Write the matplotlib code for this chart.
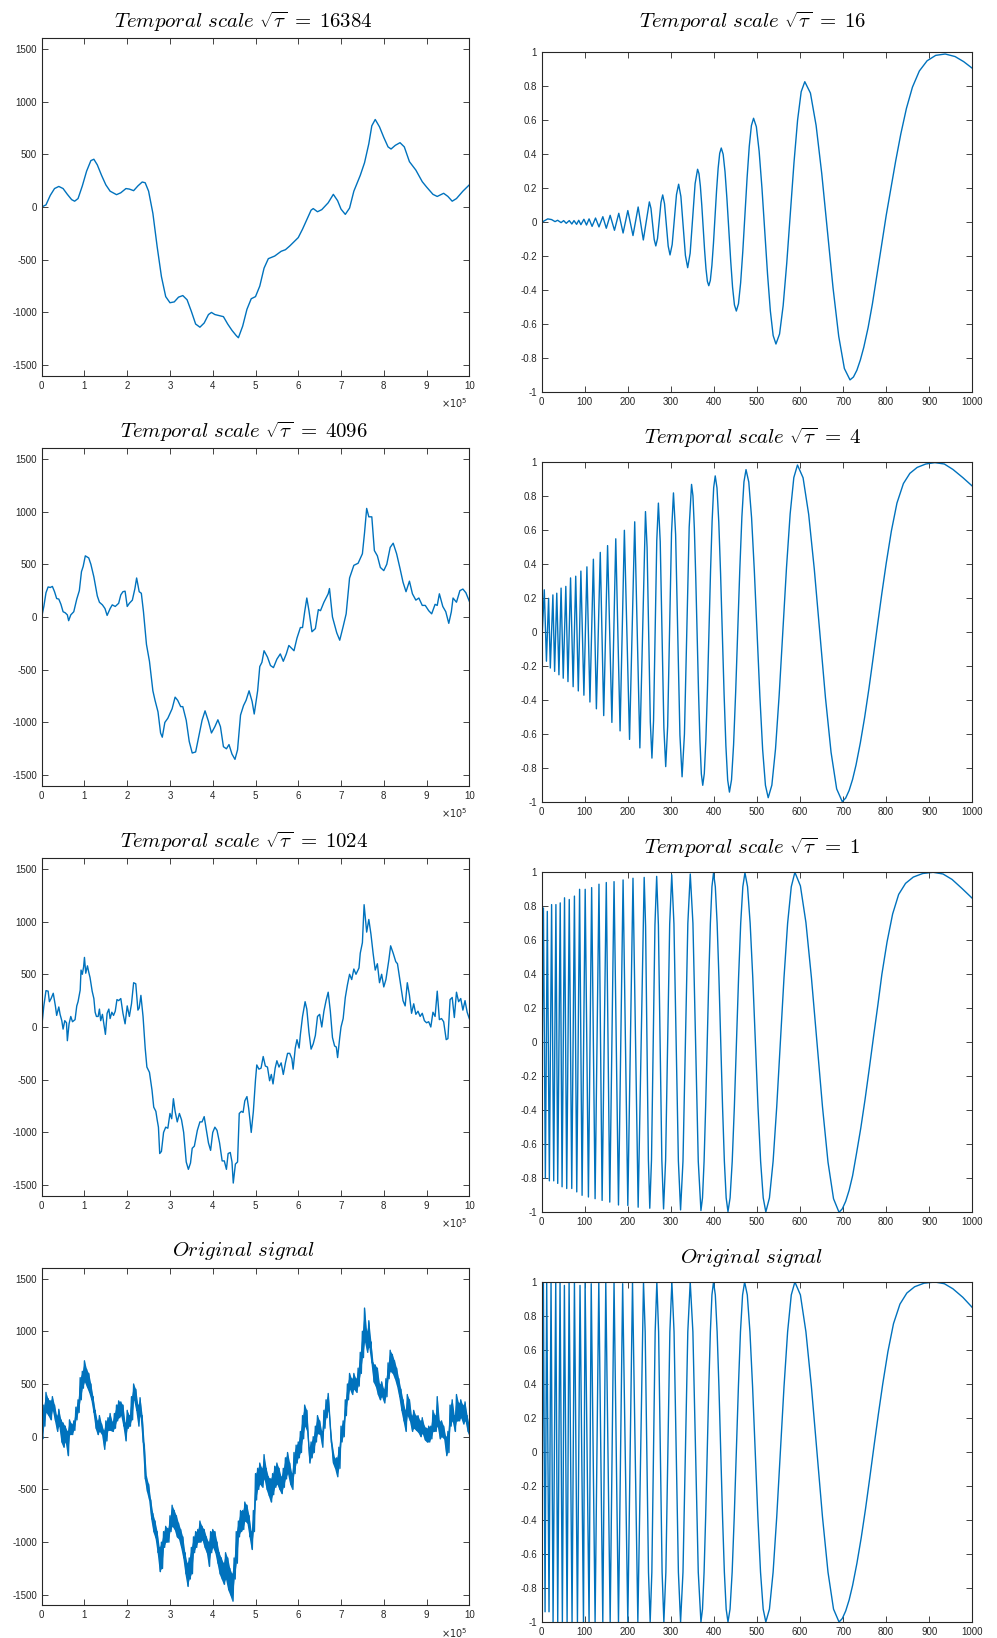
import matplotlib
matplotlib.use("Agg")
import matplotlib.pyplot as plt
import numpy as np

plt.rcParams['font.family'] = ['Liberation Sans', 'DejaVu Sans']
plt.rcParams['mathtext.fontset'] = 'cm'
plt.rcParams['axes.unicode_minus'] = False

BLUE = '#0072BD'
DARK = '#262626'

# ---- left column: smoothed random walk, x in units of 1e5 ----
smooth_16384 = [
    (0, 0), (0.1, 20), (0.2, 110), (0.3, 175), (0.4, 195), (0.5, 175), (0.6, 120), (0.7, 70),
    (0.77, 55), (0.85, 80), (0.95, 200), (1.05, 340), (1.15, 440), (1.22, 453), (1.3, 400),
    (1.4, 300), (1.5, 210), (1.6, 150), (1.75, 117), (1.85, 135), (1.97, 175), (2.05, 170),
    (2.15, 155), (2.25, 200), (2.35, 237), (2.42, 230), (2.5, 150), (2.6, -60), (2.7, -376),
    (2.8, -660), (2.9, -850), (3.0, -908), (3.1, -900), (3.2, -855), (3.3, -840), (3.4, -880),
    (3.5, -990), (3.6, -1110), (3.7, -1140), (3.8, -1100), (3.9, -1020), (3.97, -1000),
    (4.05, -1020), (4.15, -1030), (4.25, -1040), (4.35, -1110), (4.45, -1170), (4.55, -1220),
    (4.6, -1240), (4.7, -1130), (4.8, -970), (4.9, -870), (5.0, -850), (5.1, -750), (5.2, -580),
    (5.3, -490), (5.45, -465), (5.6, -420), (5.7, -405), (5.8, -370), (5.9, -330), (6.0, -290),
    (6.1, -210), (6.2, -120), (6.3, -30), (6.35, -15), (6.45, -45), (6.55, -25), (6.7, 40),
    (6.82, 120), (6.92, 60), (7.0, -20), (7.1, -70), (7.2, -10), (7.3, 150), (7.45, 300),
    (7.55, 420), (7.65, 600), (7.72, 770), (7.8, 830), (7.9, 760), (8.0, 660), (8.1, 570),
    (8.17, 550), (8.27, 585), (8.38, 610), (8.48, 570), (8.6, 430), (8.75, 350), (8.9, 240),
    (9.0, 190), (9.15, 120), (9.25, 100), (9.4, 130), (9.5, 100), (9.6, 55), (9.7, 80),
    (9.85, 150), (10.0, 210),
]

smooth_4096 = [
    (0, 0), (0.05, 100), (0.1, 230), (0.15, 285), (0.2, 280), (0.25, 290), (0.3, 240), (0.35, 175),
    (0.4, 170), (0.45, 120), (0.5, 50), (0.55, 40), (0.6, 20), (0.63, -35), (0.68, 20), (0.75, 50),
    (0.82, 170), (0.88, 250), (0.93, 430), (0.97, 480), (1.02, 580), (1.1, 560), (1.15, 500),
    (1.22, 380), (1.3, 200), (1.35, 140), (1.42, 115), (1.48, 80), (1.53, 15), (1.6, 80),
    (1.65, 115), (1.72, 100), (1.8, 130), (1.85, 210), (1.9, 240), (1.95, 245), (2.0, 100),
    (2.05, 130), (2.12, 160), (2.18, 270), (2.22, 370), (2.28, 240), (2.33, 225), (2.38, 50),
    (2.45, -260), (2.52, -420), (2.6, -700), (2.65, -790), (2.72, -900), (2.78, -1100),
    (2.82, -1140), (2.88, -1000), (2.95, -960), (3.05, -870), (3.12, -760), (3.18, -790),
    (3.25, -850), (3.3, -850), (3.38, -980), (3.45, -1180), (3.52, -1290), (3.6, -1280),
    (3.68, -1120), (3.75, -980), (3.82, -890), (3.9, -990), (3.97, -1100), (4.05, -1040),
    (4.12, -975), (4.18, -1040), (4.25, -1230), (4.32, -1250), (4.38, -1210), (4.45, -1300),
    (4.52, -1350), (4.58, -1260), (4.65, -930), (4.72, -840), (4.78, -790), (4.85, -700),
    (4.92, -800), (4.97, -920), (5.05, -700), (5.1, -470), (5.15, -430), (5.2, -320), (5.28, -380),
    (5.35, -460), (5.42, -480), (5.5, -400), (5.58, -350), (5.65, -420), (5.72, -350), (5.78, -270),
    (5.85, -300), (5.9, -320), (5.97, -200), (6.05, -100), (6.1, -100), (6.15, 50), (6.2, 180),
    (6.25, 60), (6.32, -140), (6.4, -110), (6.47, 70), (6.52, 60), (6.6, 140), (6.7, 220),
    (6.73, 270), (6.8, 0), (6.9, -150), (6.97, -220), (7.05, -90), (7.12, 30), (7.2, 370),
    (7.3, 490), (7.4, 510), (7.5, 600), (7.55, 800), (7.6, 1030), (7.65, 950), (7.72, 950),
    (7.78, 630), (7.85, 580), (7.92, 470), (8.0, 440), (8.07, 500), (8.15, 660), (8.22, 700),
    (8.3, 600), (8.38, 460), (8.45, 330), (8.52, 240), (8.6, 340), (8.67, 220), (8.75, 160),
    (8.82, 180), (8.9, 110), (8.97, 110), (9.05, 60), (9.12, 30), (9.2, 120), (9.25, 110),
    (9.3, 220), (9.38, 100), (9.45, 50), (9.52, -60), (9.58, 50), (9.62, 180), (9.7, 140),
    (9.78, 250), (9.85, 265), (9.92, 230), (10.0, 150),
]

smooth_1024 = [
    (0, 0), (0.05, 200), (0.1, 345), (0.15, 340), (0.18, 240), (0.22, 270), (0.27, 320), (0.32, 200),
    (0.35, 110), (0.4, 190), (0.43, 120), (0.47, 60), (0.5, -20), (0.54, 60), (0.58, 40), (0.6, -130),
    (0.64, 30), (0.68, 100), (0.72, 50), (0.78, 70), (0.82, 200), (0.85, 240), (0.9, 350), (0.92, 540),
    (0.95, 500), (0.98, 570), (1.0, 660), (1.03, 510), (1.07, 580), (1.1, 520), (1.13, 470),
    (1.18, 340), (1.22, 270), (1.25, 140), (1.28, 100), (1.32, 100), (1.35, 170), (1.38, 60),
    (1.42, 120), (1.49, -70), (1.53, 130), (1.57, 170), (1.6, 80), (1.64, 140), (1.68, 110),
    (1.72, 150), (1.76, 260), (1.8, 250), (1.85, 270), (1.9, 130), (1.95, 30), (2.0, 200),
    (2.05, 100), (2.1, 220), (2.15, 420), (2.2, 410), (2.25, 160), (2.28, 180), (2.32, 300),
    (2.37, 100), (2.42, -200), (2.46, -380), (2.52, -430), (2.58, -600), (2.62, -760), (2.67, -800),
    (2.7, -880), (2.73, -950), (2.76, -1200), (2.8, -1180), (2.85, -1000), (2.9, -950), (2.95, -960),
    (3.0, -820), (3.04, -870), (3.08, -680), (3.12, -800), (3.17, -900), (3.22, -820), (3.27, -880),
    (3.32, -1000), (3.38, -1280), (3.43, -1350), (3.48, -1290), (3.52, -1150), (3.57, -1130),
    (3.64, -980), (3.7, -900), (3.75, -900), (3.8, -850), (3.86, -1000), (3.9, -1100), (3.95, -1170),
    (4.0, -1000), (4.05, -950), (4.1, -980), (4.16, -1100), (4.22, -1270), (4.27, -1270),
    (4.32, -1350), (4.36, -1200), (4.41, -1190), (4.45, -1280), (4.48, -1480), (4.53, -1300),
    (4.58, -1280), (4.62, -820), (4.67, -800), (4.71, -810), (4.75, -700), (4.8, -660), (4.84, -770),
    (4.87, -880), (4.9, -1000), (4.95, -800), (5.0, -500), (5.03, -360), (5.08, -400), (5.13, -390),
    (5.18, -280), (5.23, -370), (5.28, -380), (5.33, -510), (5.37, -450), (5.41, -540), (5.46, -390),
    (5.5, -320), (5.55, -380), (5.6, -340), (5.65, -450), (5.7, -340), (5.75, -250), (5.8, -250),
    (5.85, -300), (5.88, -400), (5.93, -200), (5.97, -120), (6.02, -200), (6.05, -70), (6.1, 100),
    (6.16, 240), (6.2, 170), (6.25, -50), (6.3, -210), (6.35, -160), (6.4, -80), (6.45, 100),
    (6.5, 120), (6.55, 0), (6.6, 150), (6.65, 250), (6.7, 330), (6.75, 150), (6.8, -100),
    (6.85, -180), (6.89, -190), (6.92, -290), (6.97, -100), (7.0, 0), (7.05, 80), (7.1, 280),
    (7.15, 400), (7.2, 500), (7.25, 450), (7.3, 550), (7.35, 500), (7.42, 560), (7.45, 700),
    (7.5, 800), (7.54, 1160), (7.6, 900), (7.65, 1020), (7.7, 880), (7.75, 700), (7.8, 540),
    (7.85, 600), (7.9, 420), (7.95, 500), (8.0, 380), (8.05, 450), (8.12, 640), (8.16, 770),
    (8.22, 700), (8.28, 620), (8.32, 600), (8.38, 440), (8.42, 340), (8.45, 250), (8.5, 200),
    (8.55, 420), (8.6, 300), (8.65, 130), (8.7, 220), (8.75, 120), (8.8, 150), (8.85, 100),
    (8.9, 130), (8.95, 60), (9.0, 40), (9.05, 50), (9.1, 0), (9.15, 140), (9.2, 100), (9.25, 340),
    (9.3, 70), (9.35, 80), (9.4, 50), (9.46, -120), (9.5, -110), (9.55, 260), (9.6, 280), (9.65, 90),
    (9.7, 330), (9.75, 240), (9.8, 270), (9.85, 160), (9.9, 250), (9.95, 140), (10.0, 80),
]

# original random walk: upper / lower envelope read every 0.05e5
orig_step = 0.05
orig_hi = [
    50, 300, 420, 360, 340, 380, 300, 200, 260, 160, 130, 100, 50, 160, 120, 150, 280, 350, 560, 620,
    720, 640, 600, 500, 380, 250, 150, 200, 120, 60, 150, 180, 220, 140, 220, 300, 340, 330, 300, 130,
    250, 200, 380, 500, 450, 300, 370, 200, -80, -380, -450, -600, -730, -800, -900, -1050, -1000, -900, -850, -870,
    -750, -650, -700, -750, -820, -880, -950, -1100, -1200, -1150, -1050, -950, -900, -880, -800, -850, -880, -950, -1000, -900,
    -880, -900, -1000, -1100, -1150, -1200, -1100, -1150, -1250, -1300, -1150, -900, -800, -700, -700, -620, -650, -750, -900, -700,
    -350, -300, -250, -300, -170, -300, -380, -400, -350, -280, -250, -300, -380, -300, -200, -150, -250, -350, -150, -80,
    -50, 50, 200, 300, 250, -100, -50, 0, 100, 200, 150, 50, 250, 350, 410, 100, -100, -200, -200, -100,
    100, 150, 350, 500, 600, 550, 600, 550, 650, 800, 1000, 1220, 1000, 1100, 900, 700, 680, 650, 500, 520,
    450, 550, 700, 820, 780, 720, 650, 550, 450, 350, 250, 400, 350, 200, 250, 200, 200, 150, 180, 100,
    80, 100, 100, 250, 200, 380, 150, 150, 100, 0, 50, 300, 350, 200, 400, 320, 350, 300, 330, 200,
    100,
]
orig_lo = [
    -20, 100, 230, 200, 160, 250, 150, 50, 100, -50, -100, -50, -180, 20, 20, 60, 160, 230, 350, 460,
    520, 470, 420, 350, 230, 80, 20, 50, 20, -120, -40, 60, 60, 50, 80, 150, 180, 200, 100, -40,
    80, 100, 160, 350, 250, 100, 200, -50, -400, -520, -600, -780, -900, -960, -1100, -1280, -1250, -1050, -1000, -1000,
    -900, -850, -880, -950, -970, -1050, -1150, -1300, -1420, -1350, -1300, -1100, -1050, -1000, -1000, -980, -1050, -1100, -1230, -1100,
    -1050, -1100, -1200, -1300, -1350, -1400, -1350, -1450, -1500, -1560, -1350, -1200, -950, -900, -880, -800, -820, -950, -1070, -900,
    -600, -500, -450, -480, -400, -500, -560, -620, -550, -480, -450, -500, -540, -480, -400, -350, -450, -500, -350, -250,
    -200, -150, -20, 100, 50, -250, -200, -150, -50, 30, 20, -100, 80, 180, 250, -50, -250, -300, -380, -300,
    -50, 0, 200, 350, 450, 400, 450, 420, 480, 600, 750, 900, 800, 850, 700, 520, 480, 400, 350, 380,
    320, 380, 550, 620, 600, 550, 480, 380, 250, 150, 50, 200, 150, 50, 80, 60, 40, 0, 30, -30,
    -50, -50, -20, 50, 50, 100, -20, 0, -20, -180, -150, 100, 150, 50, 150, 150, 180, 120, 150, 50,
    0,
]

# ---- right column: smoothed chirp, (x, value) read at extrema and along the lobes ----
chirp_16 = [
    (0, 0.0), (14, 0.02), (23, 0.016), (31, 0.004), (37, 0.012), (45, -0.002), (51, 0.01), (57, -0.006),
    (64, 0.01), (70, -0.01), (75, 0.01), (81, -0.012), (86, 0.012), (91, -0.014), (98, 0.018),
    (104, -0.016), (110, 0.02), (117, -0.024), (125, 0.025), (133, -0.027), (142, 0.033), (150, -0.035),
    (159, 0.041), (169, -0.047), (179, 0.053), (189, -0.063), (200, 0.069), (212, -0.078), (224, 0.09),
    (236, -0.104), (250, 0.12),
    (253.75, 0.082), (257.5, -0.01), (261.25, -0.101), (265, -0.139),
    (269, -0.095), (273, 0.011), (277, 0.117), (281, 0.161),
    (285.25, 0.109), (289.5, -0.016), (293.75, -0.140), (298, -0.192),
    (303, -0.131), (308, 0.016), (313, 0.163), (318, 0.224),
    (323.25, 0.152), (328.5, -0.022), (333.75, -0.195), (339, -0.267),
    (344.75, -0.182), (350.5, 0.023), (356.25, 0.227), (362, 0.312),
    (365.25, 0.286), (368.5, 0.212), (371.75, 0.101), (375, -0.031), (378.25, -0.162), (381.5, -0.273),
    (384.75, -0.347), (388, -0.373),
    (391.6, -0.342), (395.25, -0.254), (398.9, -0.123), (402.5, 0.032), (406.1, 0.187), (409.75, 0.318),
    (413.4, 0.406), (417, 0.437),
    (421.4, 0.400), (425.75, 0.297), (430.1, 0.141), (434.5, -0.043), (438.9, -0.226), (443.25, -0.382),
    (447.6, -0.486), (452, -0.522),
    (457, -0.479), (462, -0.356), (467, -0.172), (472, 0.045), (477, 0.262), (482, 0.446), (487, 0.569),
    (492, 0.612),
    (498.5, 0.562), (505, 0.417), (511.5, 0.202), (518, -0.052), (524.5, -0.306), (531, -0.521),
    (537.5, -0.666), (544, -0.716),
    (552.4, -0.657), (560.75, -0.490), (569.1, -0.240), (577.5, 0.056), (585.9, 0.351), (594.25, 0.601),
    (602.6, 0.768), (611, 0.827),
    (624.1, 0.760), (637.25, 0.570), (650.4, 0.286), (663.5, -0.05), (676.6, -0.386), (689.75, -0.670),
    (702.9, -0.860), (716, -0.927),
    (724, -0.91), (732, -0.87), (740, -0.81), (748, -0.735), (758, -0.62), (768, -0.48), (778, -0.32),
    (789, -0.14), (800, 0.04), (811, 0.2), (822, 0.36), (834, 0.52), (847, 0.67), (861, 0.795),
    (877, 0.89), (895, 0.95), (915, 0.982), (937, 0.99), (960, 0.975), (980, 0.945), (1000, 0.906),
]

chirp_4 = [
    (0, -0.075), (6, 0.25), (11, -0.17), (16, 0.2), (20, -0.21), (26, 0.22), (30, -0.23), (35, 0.23),
    (40, -0.25), (45, 0.26), (50, -0.27), (56, 0.27), (61, -0.29), (67, 0.32), (73, -0.32), (79, 0.33),
    (85, -0.345), (91, 0.36), (98, -0.37), (105, 0.385), (112, -0.41), (120, 0.43), (127, -0.45),
    (136, 0.47), (144, -0.49), (153, 0.51), (163, -0.53), (172, 0.55), (182, -0.58), (192, 0.60),
    (204, -0.63), (216, 0.65), (228, -0.68), (241, 0.71),
    (244.75, 0.498), (248.5, -0.015), (252.25, -0.528), (256, -0.74),
    (259.75, -0.520), (263.5, 0.01), (267.25, 0.540), (271, 0.76),
    (275.25, 0.533), (279.5, -0.015), (283.75, -0.563), (288, -0.79),
    (292.5, -0.554), (297, 0.015), (301.5, 0.584), (306, 0.82),
    (311, 0.575), (316, -0.015), (321, -0.605), (326, -0.85),
    (331.5, -0.598), (337, 0.01), (342.5, 0.618), (348, 0.87),
    (351.25, 0.803), (354.5, 0.611), (357.75, 0.324), (361, -0.015), (364.25, -0.354), (367.5, -0.641),
    (370.75, -0.833), (374, -0.90),
    (377.6, -0.831), (381.25, -0.633), (384.9, -0.339), (388.5, 0.01), (392.1, 0.359), (395.75, 0.653),
    (399.4, 0.851), (403, 0.92),
    (407.1, 0.849), (411.25, 0.648), (415.4, 0.346), (419.5, -0.01), (423.6, -0.366), (427.75, -0.668),
    (431.9, -0.869), (436, -0.94),
    (440.8, -0.868), (445.6, -0.662), (450.4, -0.355), (455.25, 0.009), (460.1, 0.372), (464.9, 0.679),
    (469.7, 0.885), (474.5, 0.957),
    (480.9, 0.884), (487.4, 0.674), (493.8, 0.362), (500.25, -0.008), (506.7, -0.378), (513.1, -0.690),
    (519.6, -0.900), (526, -0.973),
    (534.5, -0.899), (543, -0.686), (551.5, -0.369), (560, 0.006), (568.5, 0.380), (577, 0.697),
    (585.5, 0.910), (594, 0.984),
    (607, 0.909), (620, 0.694), (633, 0.373), (646, -0.006), (659, -0.385), (672, -0.706), (685, -0.921),
    (698, -0.996),
    (706, -0.975), (714, -0.93), (722, -0.865), (730, -0.78), (740, -0.65), (750, -0.50), (760, -0.33),
    (770, -0.145), (780, 0.045), (790, 0.23), (800, 0.405), (812, 0.595), (825, 0.76), (840, 0.875),
    (855, 0.935), (872, 0.97), (892, 0.99), (913, 0.998), (935, 0.99), (955, 0.958), (978, 0.91),
    (1000, 0.86),
]

chirp_1 = [
    (0, -0.37), (4, 0.79), (8.5, -0.80), (13, 0.77), (17.8, -0.815), (23, 0.81), (27.9, -0.815),
    (33, 0.81), (37.2, -0.83), (43, 0.82), (47.3, -0.85), (53, 0.85), (58.1, -0.86), (64, 0.84),
    (69.8, -0.86), (76, 0.86), (81.4, -0.88), (88, 0.90), (93.8, -0.90), (101, 0.90), (108.5, -0.91),
    (116, 0.91), (124, -0.92), (133, 0.93), (140.3, -0.93), (150, 0.94), (158.1, -0.94), (168, 0.945),
    (178.3, -0.957), (189, 0.955), (200, -0.96), (212, 0.965), (224, -0.97), (238, 0.97),
    (241.25, 0.683), (244.5, -0.003), (247.75, -0.689), (251, -0.976),
    (255, -0.69), (259, 0.0), (263, 0.69), (267, 0.976),
    (271, 0.69), (275, -0.002), (279, -0.693), (283, -0.98),
    (287.75, -0.694), (292.5, 0.0), (297.25, 0.695), (302, 0.985),
    (307.1, 0.697), (312.25, 0.0), (317.4, -0.697), (322.5, -0.986),
    (328.1, -0.699), (333.75, 0.002), (339.4, 0.70), (345, 0.99),
    (351.2, 0.70), (357.4, 0.0), (363.6, -0.70), (369.8, -0.99),
    (373.45, -0.915), (377.1, -0.70), (380.75, -0.38), (384.4, 0.0), (388.05, 0.38), (391.7, 0.70),
    (395.35, 0.915), (399, 0.996),
    (403.2, 0.915), (407.4, 0.70), (411.6, 0.38), (415.8, 0.0), (420, -0.38), (424.2, -0.70),
    (428.4, -0.915), (432.6, -0.996),
    (437.5, -0.915), (442.45, -0.70), (447.4, -0.38), (452.3, 0.0), (457.2, 0.38), (462.15, 0.70),
    (467.1, 0.915), (472, 0.998),
    (478.05, 0.915), (484.1, 0.70), (490.2, 0.38), (496.25, 0.0), (502.3, -0.38), (508.4, -0.70),
    (514.45, -0.915), (520.5, -0.998),
    (528.9, -0.915), (537.4, -0.70), (545.8, -0.38), (554.25, 0.0), (562.7, 0.38), (571.1, 0.70),
    (579.6, 0.915), (588, 1.0),
    (600.8, 0.92), (613.6, 0.705), (626.4, 0.38), (639.25, 0.0), (652.1, -0.38), (664.9, -0.705),
    (677.7, -0.92), (690.5, -1.0),
    (698, -0.98), (706, -0.935), (714, -0.87), (722, -0.785), (731, -0.655), (741, -0.505),
    (751, -0.335), (761, -0.15), (771, 0.04), (781, 0.225), (790, 0.40), (802, 0.59), (815, 0.755),
    (829, 0.87), (845, 0.935), (863, 0.972), (885, 0.993), (909, 1.0), (932, 0.99), (953, 0.958),
    (976, 0.905), (1000, 0.847),
]

chirp_orig = [
    (0, -0.7), (3.9, 1.0), (7.8, -0.94), (11.6, 1.0), (17, -0.94), (21.7, 1.0), (26.4, -1.0),
    (32.6, 1.0), (37.2, -1.0), (42.6, 1.0), (48, -1.0), (52.7, 0.98), (59, -1.0), (63.6, 1.0),
    (70.5, -1.0), (76, 1.0), (83, -1.0), (89, 0.98), (97, -1.0), (100.8, 1.0), (110, -1.0),
    (115, 0.99), (124, -1.0), (132.6, 1.0), (141.9, -1.0), (148.8, 1.0), (159, -1.0), (168, 1.0),
    (178.3, -1.0), (188, 0.99), (200, -1.0), (210.9, 1.0), (223.3, -1.0), (236.4, 1.0),
    (240.3, 0.707), (244.15, 0.0), (248.0, -0.707), (251.9, -1.0),
    (255.8, -0.707), (259.65, 0.0), (263.5, 0.707), (267.4, 1.0),
    (271.5, 0.707), (275.55, 0.0), (279.6, -0.707), (283.7, -1.0),
    (288.35, -0.707), (293, 0.0), (297.65, 0.707), (302.3, 1.0),
    (307.35, 0.707), (312.4, 0.0), (317.45, -0.707), (322.5, -1.0),
    (328.1, -0.707), (333.7, 0.0), (339.3, 0.707), (344.9, 1.0),
    (351.1, 0.707), (357.35, 0.0), (363.6, -0.707), (369.8, -1.0),
    (373.45, -0.924), (377.1, -0.707), (380.75, -0.383), (384.4, 0.0), (388.05, 0.383), (391.7, 0.707),
    (395.35, 0.924), (399, 1.0),
    (403.2, 0.924), (407.4, 0.707), (411.6, 0.383), (415.8, 0.0), (420, -0.383), (424.2, -0.707),
    (428.4, -0.924), (432.6, -1.0),
    (437.4, -0.924), (442.3, -0.707), (447.1, -0.383), (451.95, 0.0), (456.8, 0.383), (461.6, 0.707),
    (466.5, 0.924), (471.3, 1.0),
    (477.45, 0.924), (483.6, 0.707), (489.75, 0.383), (495.9, 0.0), (502.05, -0.383), (508.2, -0.707),
    (514.35, -0.924), (520.5, -1.0),
    (528.9, -0.924), (537.4, -0.707), (545.8, -0.383), (554.25, 0.0), (562.7, 0.383), (571.1, 0.707),
    (579.6, 0.924), (588, 1.0),
    (600.8, 0.924), (613.6, 0.707), (626.4, 0.383), (639.25, 0.0), (652.1, -0.383), (664.9, -0.707),
    (677.7, -0.924), (690.5, -1.0),
    (698, -0.98), (706, -0.935), (714, -0.87), (722, -0.785), (732, -0.655), (742, -0.505),
    (752, -0.335), (762, -0.15), (772, 0.04), (782, 0.225), (792, 0.40), (804, 0.59), (817, 0.755),
    (832, 0.87), (848, 0.935), (866, 0.972), (888, 0.993), (913, 1.0), (935, 0.99), (955, 0.96),
    (978, 0.91), (1000, 0.85),
]

left_titles = [r'$\it{Temporal\ scale}\ \sqrt{\tau}\;=\;16384$',
               r'$\it{Temporal\ scale}\ \sqrt{\tau}\;=\;4096$',
               r'$\it{Temporal\ scale}\ \sqrt{\tau}\;=\;1024$',
               r'$\it{Original\ signal}$']
right_titles = [r'$\it{Temporal\ scale}\ \sqrt{\tau}\;=\;16$',
                r'$\it{Temporal\ scale}\ \sqrt{\tau}\;=\;4$',
                r'$\it{Temporal\ scale}\ \sqrt{\tau}\;=\;1$',
                r'$\it{Original\ signal}$']

left_yticks = [-1500, -1000, -500, 0, 500, 1000, 1500]
right_yticks = [-1, -0.8, -0.6, -0.4, -0.2, 0, 0.2, 0.4, 0.6, 0.8, 1]
right_ylabels = ['-1', '-0.8', '-0.6', '-0.4', '-0.2', '0', '0.2', '0.4', '0.6', '0.8', '1']

W, H = 997, 1638
fig = plt.figure(figsize=(W / 100, H / 100), dpi=100)


def px_axes(left, top, width, height):
    return fig.add_axes([left / W, 1 - (top + height) / H, width / W, height / H])


def style(ax):
    ax.tick_params(direction='in', top=True, right=True, length=4, width=0.6,
                   labelsize=7, colors=DARK, pad=3.5)
    for s in ax.spines.values():
        s.set_color(DARK)
        s.set_linewidth(0.8)


left_tops = [38.3, 448.3, 858.3, 1268.0]
right_tops = [52.3, 462.3, 872.3, 1282.0]
left_title_y = [21.7, 431.7, 841.7, 1251.3]
right_title_y = [21.7, 438.0, 848.3, 1258.0]

left_series = [smooth_16384, smooth_4096, smooth_1024]
right_series = [chirp_16, chirp_4, chirp_1, chirp_orig]

for i in range(4):
    # left panel
    ax = px_axes(41.7, left_tops[i], 427.6, 337.4)
    if i < 3:
        pts = np.array(left_series[i], dtype=float)
        ax.plot(pts[:, 0] * 1e5, pts[:, 1], color=BLUE, lw=1.0)
    else:
        ox = np.arange(len(orig_hi)) * orig_step * 1e5
        hi = np.array(orig_hi, dtype=float)
        lo = np.array(orig_lo, dtype=float)
        ax.fill_between(ox, lo, hi, color=BLUE, lw=0)
        zx = np.column_stack([ox, ox + orig_step * 0.5e5]).ravel()
        zy = np.column_stack([hi, lo]).ravel()
        ax.plot(zx, zy, color=BLUE, lw=1.0)
    ax.set_xlim(0, 1e6)
    ax.set_ylim(-1600, 1600)
    ax.set_xticks(np.arange(11) * 1e5)
    ax.set_xticklabels([str(k) for k in range(11)])
    ax.set_yticks(left_yticks)
    ax.set_yticklabels([str(v) for v in left_yticks])
    style(ax)
    ax.text(0.995, -0.081, r'$\times10^{5}$', transform=ax.transAxes, ha='right', va='center',
            fontsize=7, color=DARK, math_fontfamily='dejavusans')
    fig.text(243.7 / W, 1 - left_title_y[i] / H, left_titles[i], ha='center', va='center',
             fontsize=15, color='black')

    # right panel
    ax = px_axes(541.7, right_tops[i], 430.6, 340.0)
    pts = np.array(right_series[i], dtype=float)
    ax.plot(pts[:, 0], pts[:, 1], color=BLUE, lw=1.0)
    ax.set_xlim(0, 1000)
    ax.set_ylim(-1, 1)
    ax.set_xticks(np.arange(0, 1001, 100))
    ax.set_yticks(right_yticks)
    ax.set_yticklabels(right_ylabels)
    style(ax)
    fig.text(752 / W, 1 - right_title_y[i] / H, right_titles[i], ha='center', va='center',
             fontsize=15, color='black')

fig.savefig('out.png', dpi=100, facecolor='white')
